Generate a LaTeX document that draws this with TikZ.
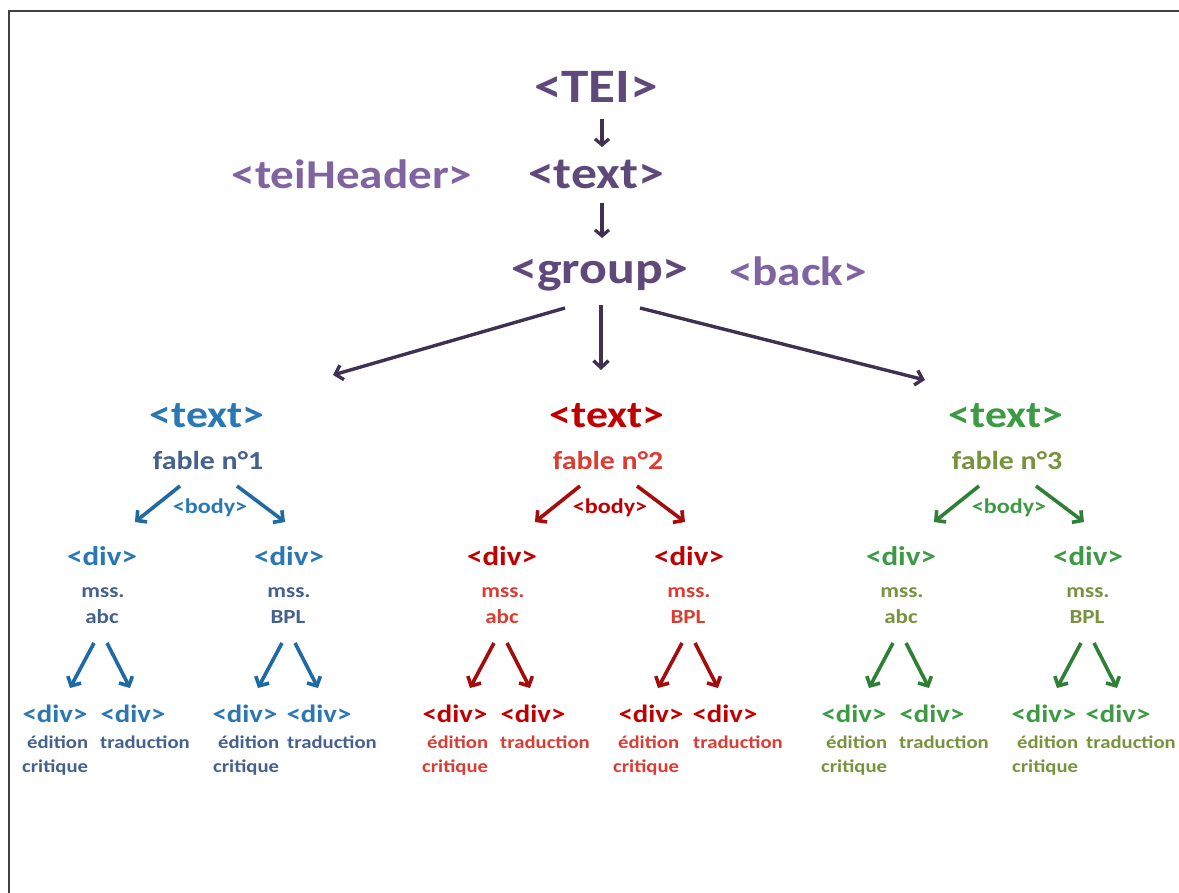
\documentclass[tikz,border=0pt]{standalone}
\usepackage{fontspec}
\setmainfont{Carlito}[FakeStretch=1.15]
\usetikzlibrary{arrows.meta}

\definecolor{purpD}{HTML}{5F497A}
\definecolor{purpL}{HTML}{8064A2}
\definecolor{purpA}{HTML}{3F3151}
\definecolor{bluM}{HTML}{2A77B5}
\definecolor{bluS}{HTML}{44618F}
\definecolor{bluA}{HTML}{1F6AA5}
\definecolor{redM}{HTML}{C00000}
\definecolor{redS}{HTML}{DC3C32}
\definecolor{redA}{HTML}{A50D0D}
\definecolor{grnM}{HTML}{3C9A44}
\definecolor{grnS}{HTML}{77933C}
\definecolor{grnA}{HTML}{2F7F36}

\tikzset{
  tag/.style={font=\bfseries\fontsize{#1}{#1}\selectfont, inner sep=0pt, anchor=base},
  tagw/.style={font=\bfseries\fontsize{#1}{#1}\selectfont, inner sep=0pt, anchor=base west},
  toparrow/.style={draw=purpA, line width=3.2pt, -{Straight Barb[length=6pt,width=14pt]}},
  grouparrow/.style={draw=purpA, line width=3.4pt, -{Straight Barb[length=7pt,width=15pt]}},
  colarrow/.style={draw=#1, line width=3.6pt, -{Straight Barb[length=7pt,width=15pt]}},
}

% one branch: <text> fable n°k with its <body>, two <div> and four sub-<div>
% #1 prefix, #2 x offset, #3 main colour, #4 secondary colour, #5 arrow colour,
% #6 number, #7 extra shift of the lower right pair
\newcommand\fablecol[7]{%
\begin{scope}[xshift=#2pt]
  \node[tag=38, text=#3] (#1txt) at (207,428) {<text>};
  \node[tag=26, text=#4] (#1fab) at (208,469) {fable n°#6};
  \node[tag=21, text=#3] (#1body) at (210,513) {<body>};
  \node[tag=27, text=#3] (#1divA) at (102,565) {<div>};
  \node[tag=27, text=#3] (#1divB) at (289,565) {<div>};
  \node[tag=20, text=#4] (#1mssA) at (103,597) {mss.};
  \node[tag=20, text=#4] (#1abc)  at (102,623) {abc};
  \node[tag=20, text=#4] (#1mssB) at (289,597) {mss.};
  \node[tag=20, text=#4] (#1bpl)  at (288,623) {BPL};
  \node[tag=25, text=#3] (#1dA1) at (55,722) {<div>};
  \node[tag=25, text=#3] (#1dA2) at (133,722) {<div>};
  \node[tag=25, text=#3] (#1dB1) at (245+#7,722) {<div>};
  \node[tag=25, text=#3] (#1dB2) at (319+#7,722) {<div>};
  \node[tagw=18, text=#4] (#1edA) at (27,748) {édition};
  \node[tagw=18, text=#4] (#1crA) at (22,772) {critique};
  \node[tagw=18, text=#4] (#1trA) at (100,748) {traduction};
  \node[tagw=18, text=#4] (#1edB) at (218,748) {édition};
  \node[tagw=18, text=#4] (#1crB) at (213,772) {critique};
  \node[tagw=18, text=#4] (#1trB) at (287+#7,748) {traduction};
  % arrow ends
  \coordinate (#1bLs) at (180,486); \coordinate (#1bLe) at (135,522);
  \coordinate (#1bRs) at (237,486); \coordinate (#1bRe) at (285,522);
  \coordinate (#1a1s) at (94,643);  \coordinate (#1a1e) at (70,688);
  \coordinate (#1a2s) at (107,643); \coordinate (#1a2e) at (130,688);
  \coordinate (#1b1s) at (282,643); \coordinate (#1b1e) at (258,688);
  \coordinate (#1b2s) at (295,643); \coordinate (#1b2e) at (318,688);
  \draw[colarrow=#5] (#1bLs) -- (#1bLe);
  \draw[colarrow=#5] (#1bRs) -- (#1bRe);
  \draw[colarrow=#5] (#1a1s) -- (#1a1e);
  \draw[colarrow=#5] (#1a2s) -- (#1a2e);
  \draw[colarrow=#5] (#1b1s) -- (#1b1e);
  \draw[colarrow=#5] (#1b2s) -- (#1b2e);
\end{scope}}

\begin{document}
\begin{tikzpicture}[x=1pt,y=-1pt]
  \useasboundingbox[fill=white] (0,0) rectangle (1179,893);
  \draw[line width=1.6pt, black!75] (9,893) -- (9,11) -- (1179,11);

  % root of the document
  \node[tag=48, text=purpD] (tei) at (596,103) {<TEI>};
  \node[tag=45, text=purpD] (text) at (596,189) {<text>};
  \node[tag=41, text=purpL] (hdr) at (352,189) {<teiHeader>};
  \node[tag=45, text=purpD] (group) at (600,284) {<group>};
  \node[tag=41, text=purpL] (back) at (798,286) {<back>};

  \coordinate (t1s) at (602,119); \coordinate (t1e) at (602,147);
  \coordinate (t2s) at (602,203); \coordinate (t2e) at (602,238);
  \draw[toparrow] (t1s) -- (t1e);
  \draw[toparrow] (t2s) -- (t2e);

  \coordinate (gLs) at (565,308); \coordinate (gLe) at (333,375);
  \coordinate (gMs) at (601,305); \coordinate (gMe) at (601,370);
  \coordinate (gRs) at (640,308); \coordinate (gRe) at (925,380);
  \draw[grouparrow] (gLs) -- (gLe);
  \draw[grouparrow] (gMs) -- (gMe);
  \draw[grouparrow] (gRs) -- (gRe);

  \fablecol{b}{0}{bluM}{bluS}{bluA}{1}{0}
  \fablecol{r}{400}{redM}{redS}{redA}{2}{6}
  \fablecol{g}{799}{grnM}{grnS}{grnA}{3}{0}
\end{tikzpicture}
\end{document}
